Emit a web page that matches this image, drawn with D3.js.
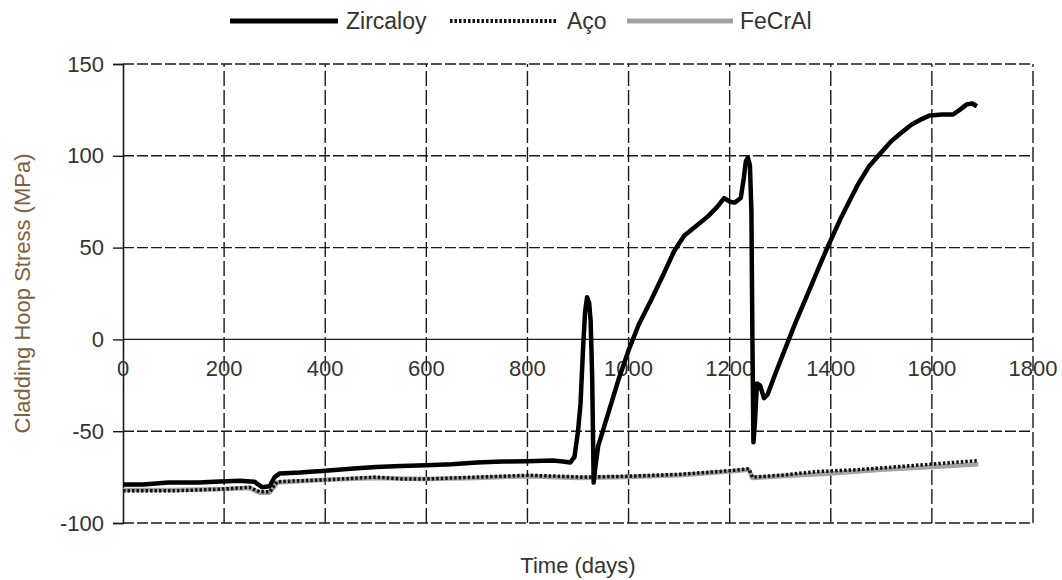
<!DOCTYPE html>
<html>
<head>
<meta charset="utf-8">
<script src="https://cdn.jsdelivr.net/npm/d3@7"></script>
<style>
  html, body { margin: 0; padding: 0; background: #fff; }
  svg text { font-family: "Liberation Sans", Arial, sans-serif; }
</style>
</head>
<body>
<div id="chart"></div>
<script>
const xTicks = [0, 200, 400, 600, 800, 1000, 1200, 1400, 1600, 1800];
const yTicks = [-100, -50, 0, 50, 100, 150];

const zircaloyDays = [0, 40, 90, 150, 180, 230, 260, 275, 290, 300, 310, 350, 400, 450, 500, 550, 600, 650, 700, 750, 800, 850, 870, 885, 893, 900, 905, 910, 914, 918, 922, 925, 928, 931, 934, 940, 960, 980, 1000, 1020, 1044, 1070, 1090, 1110, 1135, 1157, 1175, 1189, 1200, 1210, 1222, 1228, 1232, 1236, 1240, 1243, 1245, 1247, 1250, 1254, 1260, 1268, 1275, 1290, 1307, 1330, 1350, 1370, 1390, 1418, 1440, 1455, 1475, 1497, 1520, 1537, 1560, 1580, 1596, 1620, 1642, 1655, 1669, 1680, 1689];
const zircaloyStress = [-79, -79, -78, -78, -77.5, -77, -77.5, -80.5, -80, -75, -73, -72.5, -71.5, -70.5, -69.5, -69, -68.5, -68, -67, -66.5, -66.3, -66, -66.5, -67, -64, -50, -35, -5, 15, 23, 20, 10, -20, -78, -70, -58, -40, -22, -6, 8, 21, 36, 48, 56.5, 62, 67, 72, 77, 75, 74.5, 77, 88, 97, 99, 95, 70, 0, -56, -45, -24, -25, -32, -30, -19, -7, 9, 22, 35, 48, 65, 77, 85, 94, 101, 108, 112, 117, 120, 122, 122.5, 122.5, 125, 128, 128.5, 127];

const acoDays = [0, 100, 200, 250, 270, 290, 305, 400, 500, 550, 600, 700, 800, 860, 910, 1000, 1100, 1200, 1238, 1245, 1300, 1372, 1450, 1500, 1596, 1692];
const acoStress = [-82.5, -82.5, -81.5, -80.5, -83, -83, -77.5, -76.5, -75, -76, -76, -75, -74, -74.5, -75, -74.5, -73.5, -71.5, -70.5, -75, -74, -72, -71, -70, -68, -66];

const fecralDays = [0, 100, 200, 250, 270, 290, 305, 400, 500, 600, 700, 800, 900, 1000, 1100, 1200, 1238, 1245, 1300, 1400, 1500, 1600, 1692];
const fecralStress = [-82, -82, -81.5, -81, -83.5, -83.5, -78, -76.5, -75.5, -76, -75.5, -74.5, -75.5, -75, -74, -72, -71, -75.5, -74.5, -73, -71, -69.5, -68];

const seriesNames = ["Zircaloy", "Aço", "FeCrAl"];

class StressChart {
  constructor(el) {
    this.el = el;
    this._setup();
    this._scaffold();
    this._render();
  }

  _setup() {
    this.width = 1062;
    this.height = 580;
    this.margin = { top: 64, right: 29, bottom: 57, left: 123 };

    this.x = d3
      .scaleLinear()
      .domain([0, 1800])
      .range([this.margin.left, this.width - this.margin.right]);
    this.y = d3
      .scaleLinear()
      .domain([-100, 150])
      .range([this.height - this.margin.bottom, this.margin.top]);

    this.line = d3
      .line()
      .x((d) => this.x(d[0]))
      .y((d) => this.y(d[1]));

    this.series = [
      { name: seriesNames[2], data: d3.zip(fecralDays, fecralStress), stroke: "#a3a3a3", width: 4.5, dash: null },
      { name: seriesNames[1], data: d3.zip(acoDays, acoStress), stroke: "#111", width: 3.5, dash: "2.5,2" },
      { name: seriesNames[0], data: d3.zip(zircaloyDays, zircaloyStress), stroke: "#000", width: 4.5, dash: null },
    ];
  }

  _scaffold() {
    d3.select(this.el).selectAll("*").remove();
    this.svg = d3
      .select(this.el)
      .append("svg")
      .attr("width", this.width)
      .attr("height", this.height);
  }

  _render() {
    const [x0, x1] = this.x.range();
    const [y0, y1] = this.y.range();

    // horizontal grid (dashed), zero line solid
    this.svg
      .append("g")
      .selectAll("line")
      .data(yTicks)
      .join("line")
      .attr("x1", x0)
      .attr("x2", x1)
      .attr("y1", (d) => this.y(d))
      .attr("y2", (d) => this.y(d))
      .attr("stroke", "#1a1a1a")
      .attr("stroke-width", 1.4)
      .attr("stroke-dasharray", (d) => (d === 0 ? null : "11,3"));

    // vertical grid
    this.svg
      .append("g")
      .selectAll("line")
      .data(xTicks.filter((d) => d !== 0))
      .join("line")
      .attr("x1", (d) => this.x(d))
      .attr("x2", (d) => this.x(d))
      .attr("y1", y0)
      .attr("y2", y1)
      .attr("stroke", "#1a1a1a")
      .attr("stroke-width", 1.4)
      .attr("stroke-dasharray", "15,4");

    // y axis
    const yAxis = this.svg
      .append("g")
      .attr("transform", `translate(${x0},0)`)
      .call(
        d3
          .axisLeft(this.y)
          .tickValues(yTicks)
          .tickFormat((d) => String(d))
          .tickSize(10)
          .tickPadding(9)
      );
    yAxis.select(".domain").attr("stroke", "#1a1a1a").attr("stroke-width", 1.6);
    yAxis.selectAll(".tick line").attr("stroke", "#1a1a1a").attr("stroke-width", 1.4);
    yAxis
      .selectAll(".tick text")
      .attr("font-size", 22)
      .attr("fill", "#333")
      .attr("font-family", "Liberation Sans, Arial, sans-serif");

    // x tick labels sit under the zero line
    this.svg
      .append("g")
      .selectAll("text")
      .data(xTicks)
      .join("text")
      .attr("x", (d) => this.x(d))
      .attr("y", this.y(0) + 37)
      .attr("text-anchor", "middle")
      .attr("font-size", 22)
      .attr("fill", "#333")
      .text((d) => d);

    // series
    this.svg
      .append("g")
      .selectAll("path")
      .data(this.series)
      .join("path")
      .attr("fill", "none")
      .attr("stroke", (d) => d.stroke)
      .attr("stroke-width", (d) => d.width)
      .attr("stroke-dasharray", (d) => d.dash)
      .attr("stroke-linejoin", "round")
      .attr("d", (d) => this.line(d.data));

    // axis titles
    this.svg
      .append("text")
      .attr("x", (x0 + x1) / 2)
      .attr("y", 573)
      .attr("text-anchor", "middle")
      .attr("font-size", 22)
      .attr("fill", "#333")
      .text("Time (days)");

    this.svg
      .append("text")
      .attr("transform", `translate(30,${(y0 + y1) / 2}) rotate(-90)`)
      .attr("text-anchor", "middle")
      .attr("font-size", 22)
      .attr("fill", "#7d6142")
      .text("Cladding Hoop Stress (MPa)");

    // legend
    const legendItems = [
      { name: seriesNames[0], x1: 230, x2: 338, tx: 346, stroke: "#000", width: 5, dash: null },
      { name: seriesNames[1], x1: 450, x2: 558, tx: 567, stroke: "#111", width: 4, dash: "2.5,2" },
      { name: seriesNames[2], x1: 627, x2: 733, tx: 740, stroke: "#a3a3a3", width: 5, dash: null },
    ];
    const legend = this.svg.append("g").selectAll("g").data(legendItems).join("g");
    legend
      .append("line")
      .attr("x1", (d) => d.x1)
      .attr("x2", (d) => d.x2)
      .attr("y1", 21)
      .attr("y2", 21)
      .attr("stroke", (d) => d.stroke)
      .attr("stroke-width", (d) => d.width)
      .attr("stroke-dasharray", (d) => d.dash);
    legend
      .append("text")
      .attr("x", (d) => d.tx)
      .attr("y", 29)
      .attr("font-size", 23)
      .attr("fill", "#333")
      .text((d) => d.name);
  }
}

new StressChart(document.getElementById("chart"));
</script>
</body>
</html>
